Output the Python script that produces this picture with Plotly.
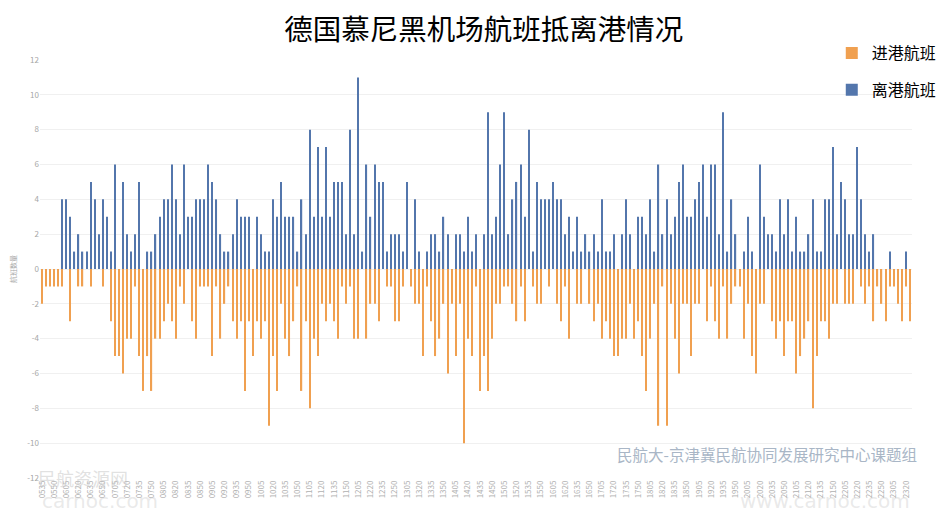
import plotly.graph_objects as go
from datetime import datetime, timedelta

start_time = "05:35"
step_minutes = 5

departures = [
    0, 0, 0, 0, 0, 4, 4, 3, 1, 2, 1, 1, 5, 4, 2, 4, 3, 1, 6, 0,
    5, 2, 1, 2, 5, 0, 1, 1, 2, 3, 4, 4, 6, 4, 2, 6, 3, 3, 4, 4,
    4, 6, 5, 4, 2, 1, 1, 2, 4, 3, 3, 3, 0, 3, 2, 1, 1, 4, 3, 5,
    3, 3, 3, 1, 4, 2, 8, 3, 7, 3, 7, 3, 5, 5, 5, 2, 8, 2, 11, 1,
    6, 3, 6, 5, 5, 1, 2, 2, 2, 1, 5, 0, 4, 1, 0, 1, 2, 2, 1, 3,
    2, 0, 2, 2, 1, 3, 1, 2, 0, 2, 9, 2, 3, 6, 9, 2, 4, 5, 6, 3,
    8, 1, 5, 4, 4, 4, 5, 4, 4, 2, 3, 1, 3, 1, 2, 1, 2, 1, 4, 1,
    1, 2, 0, 2, 4, 2, 0, 3, 3, 2, 4, 1, 6, 2, 4, 2, 3, 5, 6, 3,
    3, 4, 5, 6, 3, 6, 6, 2, 9, 1, 4, 2, 0, 1, 3, 1, 0, 6, 3, 2,
    2, 1, 4, 2, 4, 1, 3, 1, 1, 2, 4, 1, 1, 4, 4, 7, 2, 5, 4, 2,
    2, 7, 4, 2, 1, 2, 0, 0, 0, 1, 0, 0, 0, 1, 0,
]

arrivals = [
    -2, -1, -1, -1, -1, -1, 0, -3, 0, -1, -1, 0, -1, 0, 0, -1, 0, -3, -5, -5,
    -6, -4, -4, -1, -5, -7, -5, -7, -4, -4, -3, -2, -3, -4, -1, -2, 0, -3, -4, -1,
    -1, -1, -5, -1, -4, -2, -1, -3, -4, -3, -7, -3, -5, -3, -4, -3, -9, -5, -7, -2,
    -4, -5, -3, -1, -7, -3, -8, -4, -5, -2, -3, -2, -3, -4, -1, -2, -1, -4, -4, 0,
    -4, -2, -2, -3, 0, -1, -1, -3, -3, -1, 0, -1, -2, -2, -5, -1, -3, -5, -4, -2,
    -6, -2, -5, -2, -10, -4, -5, -1, -7, -5, -7, -4, -2, -2, -1, -1, -2, -3, -1, -3,
    0, -1, -2, -2, 0, -1, 0, -2, -3, -1, -4, 0, -2, -2, 0, -2, -3, -2, -4, -3,
    -4, -5, -5, -4, -4, -2, -4, -3, -5, -7, -4, -2, -9, -1, -9, -2, -4, -6, -2, -2,
    -5, -2, -2, 0, -3, -1, -3, -4, -1, -4, -2, -1, -1, -4, -2, -5, -6, -2, -2, 0,
    -3, -4, -3, -5, -3, -3, -6, -5, -4, -3, -8, -5, -3, -3, -4, -2, -2, 0, -2, -2,
    -2, 0, -1, -2, -1, -3, -1, -2, -3, -1, -1, -2, -3, -1, -3,
]

t0 = datetime.strptime(start_time, "%H:%M")
categories = [(t0 + timedelta(minutes=step_minutes * i)).strftime("%H%M")
              for i in range(len(departures))]
tick_labels = categories[::3]

y_ticks = list(range(-12, 13, 2))
y_tick_text = [str(v) for v in y_ticks]

CJK = "Noto Sans CJK SC"

fig = go.Figure()
fig.add_trace(go.Bar(
    x=categories, y=arrivals, name="进港航班",
    marker=dict(color="#F0A050", line=dict(width=0)), width=0.3,
    legendgroup="a",
))
fig.add_trace(go.Bar(
    x=categories, y=departures, name="离港航班",
    marker=dict(color="#5376AC", line=dict(width=0)), width=0.3,
    legendgroup="b",
))

fig.update_layout(
    width=940, height=516,
    margin=dict(l=32, r=36, t=52, b=46, autoexpand=False),
    paper_bgcolor="white", plot_bgcolor="white",
    barmode="relative",
    font=dict(family=CJK, color="#595959"),
    title=dict(text="德国慕尼黑机场航班抵离港情况", x=0.506, xanchor="center",
               y=0.957, yanchor="middle",
               font=dict(family=CJK, size=28.5, color="#000000")),
    showlegend=True,
    legend=dict(x=0.908, y=1.057, xanchor="left", yanchor="top",
                font=dict(family=CJK, size=16, color="#000000"),
                tracegroupgap=13, itemwidth=30, bgcolor="rgba(0,0,0,0)",
                traceorder="grouped"),
    xaxis=dict(
        type="category", categoryorder="array", categoryarray=categories,
        tickmode="array", tickvals=tick_labels, ticktext=tick_labels,
        tickangle=-90, tickfont=dict(size=8, color="#B0B0B0", family=CJK),
        showgrid=False, showline=False, ticks="", zeroline=False,
        range=[-0.5, len(categories) - 0.5],
    ),
    yaxis=dict(
        range=[-12, 12], tickmode="array", tickvals=y_ticks, ticktext=y_tick_text,
        tickfont=dict(size=8, color="#A6A6A6", family=CJK),
        showgrid=True, gridcolor="#F0F0F0", gridwidth=1,
        zeroline=False, showline=False, ticks="",
        title=dict(text="航班数量", font=dict(size=7, color="#A6A6A6", family=CJK),
                   standoff=12),
    ),
)

fig.add_annotation(
    text="民航大-京津冀民航协同发展研究中心课题组", xref="paper", yref="paper",
    x=1.008, y=0.058, xanchor="right", yanchor="middle", showarrow=False,
    font=dict(family=CJK, size=15.5, color="#A9B6C6"),
)
fig.add_annotation(
    text="民航资源网", xref="paper", yref="paper", x=-0.005, y=0.0,
    xanchor="left", yanchor="middle", showarrow=False,
    font=dict(family=CJK, size=18, color="rgba(200,200,200,0.55)"),
)
fig.add_annotation(
    text="carnoc.com", xref="paper", yref="paper", x=0.0, y=-0.055,
    xanchor="left", yanchor="middle", showarrow=False,
    font=dict(family="DejaVu Sans", size=20, color="rgba(200,200,200,0.4)"),
)
fig.add_annotation(
    text="www.carnoc.com", xref="paper", yref="paper", x=1.0, y=-0.055,
    xanchor="right", yanchor="middle", showarrow=False,
    font=dict(family="DejaVu Sans", size=20, color="rgba(200,200,200,0.4)"),
)

fig.write_html("out.html")
